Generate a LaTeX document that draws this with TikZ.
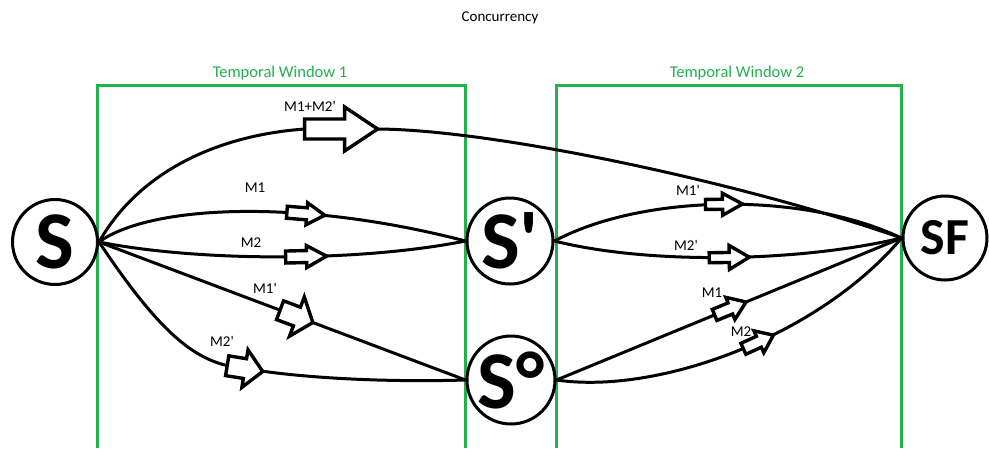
\documentclass[tikz,border=0pt]{standalone}
\usepackage{fontspec}
\setmainfont{Carlito}[Ligatures=TeXOff]
\usetikzlibrary{decorations.markings}
\definecolor{winGreen}{RGB}{34,177,76}

% outlined block arrow centred on a marking: body length, head length, body half-width, head half-width
\newcommand{\blockarr}[4]{%
  \pgfmathsetmacro{\bt}{-(#1+#2)/2}%
  \pgfmathsetmacro{\bh}{\bt+#1}%
  \pgfmathsetmacro{\bp}{(#1+#2)/2}%
  \draw[blk] (\bt,-#3) -- (\bh,-#3) -- (\bh,-#4) -- (\bp,0) -- (\bh,#4) -- (\bh,#3) -- (\bt,#3) -- cycle;}

\tikzset{
  state/.style={circle, draw, line width=3pt, inner sep=0pt, font=\bfseries\fontsize{82}{82}\selectfont},
  window/.style={draw=winGreen, line width=3pt},
  wintext/.style={text=winGreen, font=\fontsize{16.5}{18}\selectfont},
  msg/.style={font=\fontsize{15}{17}\selectfont},
  flow/.style={line width=3pt},
  blk/.style={line width=3.4pt, fill=white, line join=miter},
  withblk/.style n args={5}{postaction={decorate, decoration={markings,
      mark=at position #1 with {\blockarr{#2}{#3}{#4}{#5}}}}}
}

\begin{document}
\begin{tikzpicture}[x=1pt, y=-1pt]
\useasboundingbox (0,0) rectangle (989,448);

% temporal windows
\draw[window] (97,448) -- (97,85) -- (465,85) -- (465,448);
\draw[window] (556,448) -- (556,85) -- (901,85) -- (901,448);
\node[wintext] (tw1) at (280,73) {Temporal Window 1};
\node[wintext] (tw2) at (737,73) {Temporal Window 2};
\node[msg] (title) at (500,18) {Concurrency};

% states
\node[state, minimum size=85pt] (S)  at (55,242) {S};
\node[state, minimum size=86pt] (Sp) at (510,241) {S'};
\node[state, minimum size=88pt] (So) at (511,380) {S°};
\node[state, minimum size=84pt, font=\bfseries\fontsize{52}{52}\selectfont] (SF) at (945,238) {SF};

% transitions in the first window
\draw[flow, withblk={281pt}{40}{33}{10}{22}]
  (S.east) .. controls (140,170) and (220,135) .. (305,129) -- (378,129)
  .. controls (500,130) and (750,185) .. (SF.west);
\draw[flow, withblk={212pt}{20}{18}{6}{11}]
  (S.east) .. controls (150,205) and (300,198) .. (Sp.west);
\draw[flow, withblk={208pt}{21}{20}{6}{11}]
  (S.east) .. controls (200,262) and (360,262) .. (Sp.west);
\draw[flow, withblk={211pt}{18}{17}{10}{21}]
  (S.east) -- (So.west);
\draw[flow, withblk={200pt}{18}{18}{10}{19}]
  (S.east) .. controls (150,318) and (185,355) .. (225,365)
  .. controls (300,380) and (400,382) .. (So.west);

% transitions in the second window
\draw[flow, withblk={175pt}{17}{20}{5}{11}]
  (Sp.east) .. controls (640,195) and (800,190) .. (SF.west);
\draw[flow, withblk={176pt}{20}{20}{5}{12}]
  (Sp.east) .. controls (650,265) and (800,262) .. (SF.west);
\draw[flow, withblk={188pt}{17}{17}{6}{12}]
  (So.east) -- (SF.west);
\draw[flow, withblk={208pt}{17}{16}{6}{12}]
  (So.east) .. controls (660,395) and (820,335) .. (SF.west);

% message labels
\node[msg] (l1) at (310,106) {M1+M2'};
\node[msg] (l2) at (255,188) {M1};
\node[msg] (l3) at (251,243) {M2};
\node[msg] (l4) at (265,288) {M1'};
\node[msg] (l5) at (222,341) {M2'};
\node[msg] (l6) at (688,190) {M1'};
\node[msg] (l7) at (686,245) {M2'};
\node[msg] (l8) at (712,293) {M1};
\node[msg] (l9) at (741,332) {M2};
\end{tikzpicture}
\end{document}
